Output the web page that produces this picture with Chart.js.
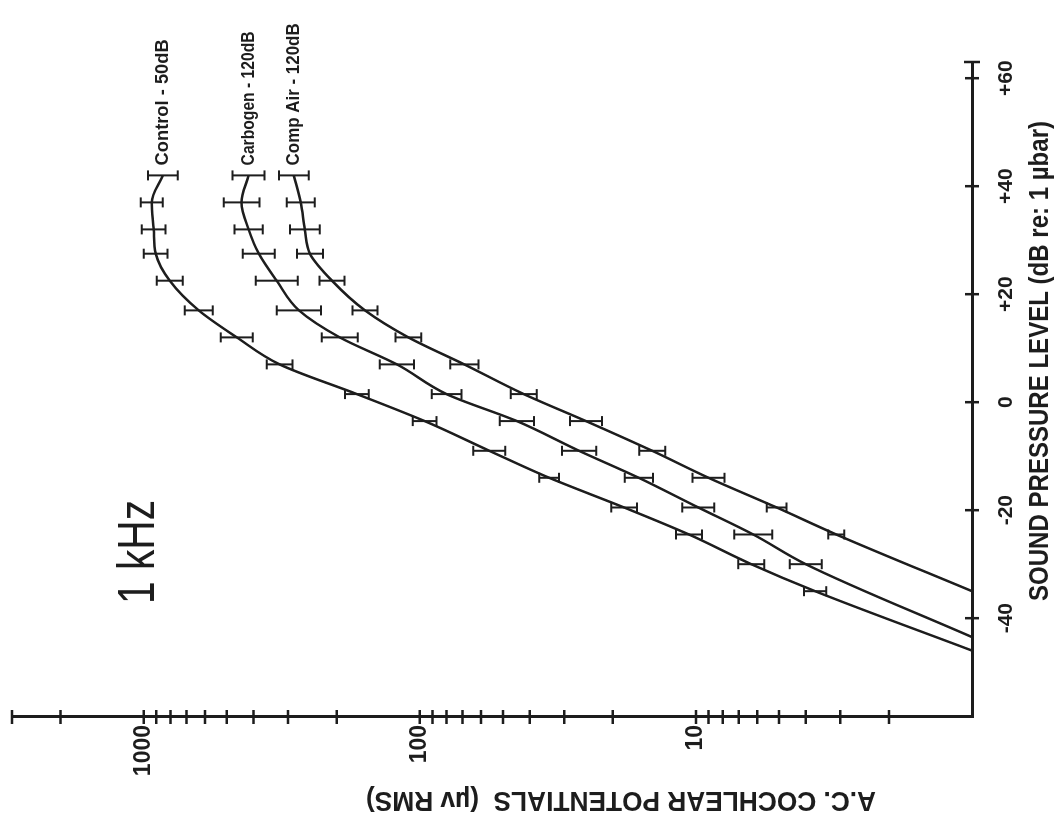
<!DOCTYPE html>
<html>
<head>
<meta charset="utf-8">
<title>1 kHz - A.C. cochlear potentials</title>
<script src="https://cdn.jsdelivr.net/npm/chart.js@4/dist/chart.umd.min.js"></script>
<style>
  html, body { margin: 0; padding: 0; background: #fff; overflow: hidden; }
  /* the plot is laid out upright, then turned a quarter turn to the left */
  #stage {
    position: absolute; left: 0; top: 0;
    width: 825px; height: 1061px;
    transform-origin: 0 0;
    transform: translateY(825px) rotate(-90deg);
  }
</style>
</head>
<body>
<div id="stage"><canvas id="cmChart" width="825" height="1061"></canvas></div>
<script>
// sound pressure levels (dB re: 1 µbar) of the measured points
const splLevels = [42, 37, 32, 27.5, 22.5, 17, 12, 7, 1.5, -3.5, -9, -14, -19.5, -24.5, -30, -35];

// mean A.C. cochlear potentials (µV RMS)
const controlValues  = [853, 935, 920, 905, 805, 632, 460, 322, 169, 96, 56, 34, 18.2, 10.6, 6.3, 3.7];
const carbogenValues = [417, 442, 417, 383, 330, 274, 195, 121, 80, 44.5, 26.5, 16.1, 9.8, 6.2, 4.0];
const compAirValues  = [286, 270, 261, 250, 208, 158, 110, 69, 42, 25, 14.4, 9.0, 5.1, 3.1];

// error bar half-spread, in log10 units
const controlErr  = [0.054, 0.040, 0.043, 0.043, 0.047, 0.051, 0.058, 0.047, 0.043, 0.043, 0.058, 0.036, 0.047, 0.047, 0.047, 0.040];
const carbogenErr = [0.058, 0.065, 0.051, 0.058, 0.076, 0.080, 0.065, 0.062, 0.054, 0.062, 0.062, 0.051, 0.058, 0.069, 0.058];
const compAirErr  = [0.054, 0.051, 0.054, 0.047, 0.045, 0.045, 0.047, 0.051, 0.047, 0.058, 0.047, 0.058, 0.036, 0.029];

// level where each fitted line runs down to 1 µV
const thresholdSpl = [-46, -43.5, -35];

const seriesNames = ["Control - 50dB", "Carbogen - 120dB", "Comp Air - 120dB"];
const splTicks = [-40, -20, 0, 20, 40, 60];
const potentialLabels = [10, 100, 1000];

const ink = "#1d1d1d";
const face = "'Liberation Sans', 'DejaVu Sans', sans-serif";

function makePoints(values, errs, endSpl) {
  const pts = values.map((v, i) => ({
    x: splLevels[i],
    y: v,
    lo: v / Math.pow(10, errs[i]),
    hi: v * Math.pow(10, errs[i])
  }));
  pts.push({ x: endSpl, y: 1 });
  return pts;
}

const errorBars = {
  id: "errorBars",
  afterDatasetsDraw(chart) {
    const { ctx, scales: { x, y } } = chart;
    ctx.save();
    ctx.strokeStyle = ink;
    ctx.lineWidth = 2;
    chart.data.datasets.forEach(ds => {
      ds.data.forEach(p => {
        if (p.lo === undefined) return;
        const px = x.getPixelForValue(p.x);
        const top = y.getPixelForValue(p.hi);
        const bot = y.getPixelForValue(p.lo);
        ctx.beginPath();
        ctx.moveTo(px, top); ctx.lineTo(px, bot);
        ctx.moveTo(px - 5, top); ctx.lineTo(px + 5, top);
        ctx.moveTo(px - 5, bot); ctx.lineTo(px + 5, bot);
        ctx.stroke();
      });
    });
    ctx.restore();
  }
};

// crossing tick marks, axis end caps and the free text
const decorations = {
  id: "decorations",
  afterDraw(chart) {
    const { ctx, chartArea: a, scales: { x, y } } = chart;
    ctx.save();
    ctx.strokeStyle = ink;
    ctx.fillStyle = ink;
    ctx.lineWidth = 2.5;

    ctx.beginPath();
    y.ticks.forEach(t => {
      if (t.value <= 1) return;
      const py = y.getPixelForValue(t.value);
      ctx.moveTo(a.left - 7, py); ctx.lineTo(a.left + 7, py);
    });
    x.ticks.forEach(t => {
      const px = x.getPixelForValue(t.value);
      ctx.moveTo(px, a.bottom - 7); ctx.lineTo(px, a.bottom + 7);
    });
    // end caps
    ctx.moveTo(a.right, a.bottom - 8); ctx.lineTo(a.right, a.bottom + 8);
    ctx.stroke();

    // series names beside the top point of each curve
    ctx.font = "bold 19px " + face;
    ctx.textAlign = "left";
    ctx.textBaseline = "middle";
    chart.data.datasets.forEach((ds, d) => {
      const p = chart.getDatasetMeta(d).data[0];
      ctx.fillText(seriesNames[d], p.x + 10, p.y, 126 + d * 8);
    });

    ctx.font = "52px " + face;
    ctx.textAlign = "center";
    ctx.fillText("1 kHz", a.left + 165, a.top + 128, 104);

    ctx.font = "bold 28px " + face;
    ctx.fillText("SOUND PRESSURE LEVEL (dB re: 1 \u00b5bar)", a.left + 356, a.bottom + 68, 480);

    ctx.translate(25, a.top + 609);
    ctx.rotate(-Math.PI / 2);
    ctx.fillText("A.C. COCHLEAR POTENTIALS  (\u00b5v RMS)", 0, 0, 510);
    ctx.restore();
  }
};

const lineStyle = {
  borderColor: ink,
  borderWidth: 2.5,
  pointRadius: 0,
  cubicInterpolationMode: "monotone",
  fill: false
};

new Chart(document.getElementById("cmChart"), {
  type: "line",
  data: {
    datasets: [
      { label: seriesNames[0], data: makePoints(controlValues, controlErr, thresholdSpl[0]), ...lineStyle },
      { label: seriesNames[1], data: makePoints(carbogenValues, carbogenErr, thresholdSpl[1]), ...lineStyle },
      { label: seriesNames[2], data: makePoints(compAirValues, compAirErr, thresholdSpl[2]), ...lineStyle }
    ]
  },
  options: {
    responsive: false,
    animation: false,
    layout: { autoPadding: false, padding: { left: 48, right: 62, top: 12, bottom: 0 } },
    plugins: {
      legend: { display: false },
      tooltip: { enabled: false }
    },
    scales: {
      x: {
        type: "linear",
        min: -58.3,
        max: 63,
        afterBuildTicks: s => { s.ticks = splTicks.map(v => ({ value: v })); },
        afterFit: s => { s.height = 89; s.paddingLeft = 0; s.paddingRight = 0; },
        grid: { display: false, drawTicks: false },
        border: { display: true, color: ink, width: 3 },
        ticks: {
          color: ink,
          font: { family: face, size: 21, weight: "bold" },
          padding: 22,
          autoSkip: false,
          maxRotation: 0,
          callback: v => (v > 0 ? "+" + v : String(v))
        }
      },
      y: {
        type: "logarithmic",
        min: 1,
        max: 3000,
        afterBuildTicks: s => {
          const ticks = [];
          [1, 10, 100].forEach(dec => {
            for (let k = 1; k <= 9; k++) ticks.push({ value: dec * k });
          });
          ticks.push({ value: 1000 }, { value: 2000 }, { value: 3000 });
          s.ticks = ticks;
        },
        afterFit: s => { s.width = 60; s.paddingTop = 0; s.paddingBottom = 0; },
        grid: { display: false, drawTicks: false },
        border: { display: true, color: ink, width: 3 },
        ticks: {
          color: ink,
          font: { family: face, size: 23, weight: "bold" },
          padding: 8,
          autoSkip: false,
          callback: v => (potentialLabels.includes(v) ? String(v) : "")
        }
      }
    }
  },
  plugins: [errorBars, decorations]
});
</script>
</body>
</html>
